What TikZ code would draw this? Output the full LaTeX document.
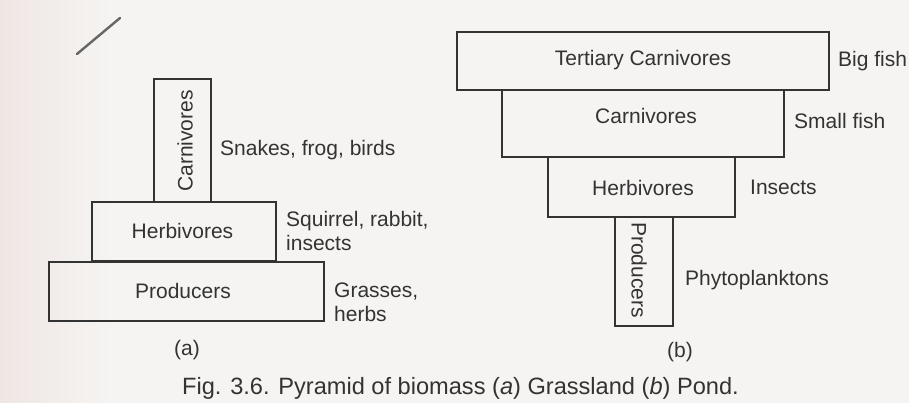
\documentclass[tikz,border=0pt]{standalone}
\usepackage{fontspec}
\setmainfont{Liberation Sans}
\definecolor{ink}{HTML}{333333}
\definecolor{paper}{HTML}{F5F4F2}
\definecolor{pinkpaper}{HTML}{EFE6E3}
\begin{document}
\begin{tikzpicture}[x=1pt,y=-1pt,
  box/.style={draw=ink, line width=1.1pt, rectangle, inner sep=0pt, outer sep=0pt},
  txt/.style={text=ink, font=\fontsize{21}{24}\selectfont, inner sep=0pt},
  side/.style={txt, anchor=west, align=left}]
\useasboundingbox (0,0) rectangle (909,403);
\fill[paper] (0,0) rectangle (909,403);
\shade[left color=pinkpaper, right color=paper] (0,0) rectangle (110,403);
\draw[black!60, line width=2.4pt, line cap=round] (77,54) -- (120,18);
% (a) Grassland
\node[box, minimum width=57pt, minimum height=123pt] (carnA) at (182.5,140.5) {};
\node[box, minimum width=184pt, minimum height=59pt] (herbA) at (184,231.5) {};
\node[box, minimum width=275pt, minimum height=59pt] (prodA) at (186.5,291.5) {};
\node[txt, rotate=90] (tcarnA) at (185,141) {Carnivores};
\node[txt] (therbA) at (182.5,231) {Herbivores};
\node[txt] (tprodA) at (183,291) {Producers};
\node[side] (sA1) at (220,150) {Snakes, frog, birds};
\node[side] (sA2) at (286,231) {Squirrel, rabbit,\\insects};
\node[side] (sA3) at (334,302) {Grasses,\\herbs};
\node[txt] (la) at (187,350) {(a)};
% (b) Pond
\node[box, minimum width=372pt, minimum height=58pt] (tertB) at (643,61) {};
\node[box, minimum width=282pt, minimum height=67pt] (carnB) at (643,123.5) {};
\node[box, minimum width=187pt, minimum height=60pt] (herbB) at (641.5,187) {};
\node[box, minimum width=58pt, minimum height=109pt] (prodB) at (644,271.5) {};
\node[txt] (ttertB) at (643,60) {Tertiary Carnivores};
\node[txt] (tcarnB) at (646,116) {Carnivores};
\node[txt] (therbB) at (643,188) {Herbivores};
\node[txt, rotate=-90] (tprodB) at (639,270) {Producers};
\node[side] (sB1) at (838,61) {Big fish};
\node[side] (sB2) at (794,121) {Small fish};
\node[side] (sB3) at (750,187) {Insects};
\node[side] (sB4) at (685,280) {Phytoplanktons};
\node[txt] (lb) at (680,352) {(b)};
% caption
\node[txt, anchor=west, font=\fontsize{23.6}{26}\selectfont] (cap) at (182,388) {Fig. 3.6. Pyramid of biomass (\textit{a}) Grassland (\textit{b}) Pond.};
\end{tikzpicture}
\end{document}
